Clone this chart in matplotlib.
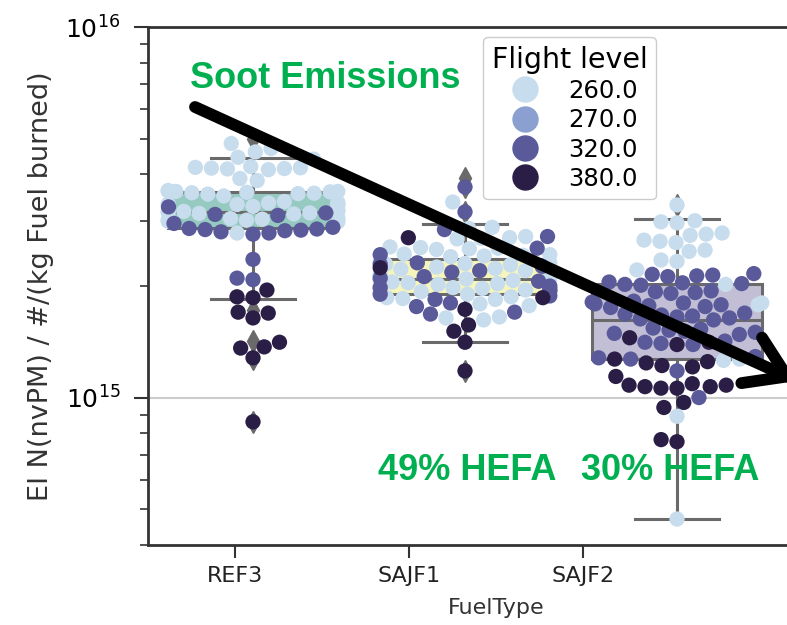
import numpy as np
import pandas as pd
import matplotlib
matplotlib.use("Agg")
import matplotlib.pyplot as plt
from matplotlib.lines import Line2D
import seaborn as sns

# EI values in units of 1e15 particles / kg fuel
fuel_types = ["REF3", "SAJF1", "SAJF2"]
levels = ["260.0", "270.0", "320.0", "380.0"]
level_colors = ["#c7dcec", "#8b9fd0", "#5a5a9a", "#2b1e46"]

ref3_260 = [4.85, 4.7, 4.6, 4.45, 4.4, 4.2, 4.18, 4.17, 4.16, 4.15, 4.14, 4.12,
            3.9, 3.85, 3.62, 3.61, 3.6, 3.6, 3.59, 3.58, 3.57, 3.56, 3.55, 3.54,
            3.5, 3.38, 3.36, 3.35, 3.34, 3.33, 3.32, 3.3, 3.28, 3.2, 3.19, 3.18,
            3.17, 3.16, 3.15, 3.14, 3.13, 3.05, 3.04, 3.03, 3.02, 3.01, 3.0,
            2.99, 2.98, 2.78]
ref3_320 = [3.27, 3.12, 3.15, 3.1, 2.95, 2.88, 2.86, 2.85, 2.84, 2.83, 2.82,
            2.8, 2.78, 2.76, 2.36, 2.1, 2.08]
ref3_380 = [1.95, 1.87, 1.86, 1.7, 1.69, 1.64, 1.41, 1.37, 1.36, 1.28, 0.86]

sajf1_260 = [3.37, 2.88, 2.86, 2.72, 2.70, 2.69, 2.68, 2.55, 2.54, 2.53, 2.52,
             2.51, 2.44, 2.43, 2.42, 2.41, 2.40, 2.32, 2.31, 2.30, 2.29, 2.28,
             2.25, 2.24, 2.23, 2.22, 2.21, 2.20, 2.14, 2.13, 2.12, 2.11, 2.10,
             2.09, 2.08, 2.07, 2.05, 2.04, 2.03, 2.02, 2.00, 1.99, 1.98, 1.97,
             1.96, 1.95, 1.93, 1.92, 1.91, 1.90, 1.87, 1.86, 1.85, 1.84, 1.79,
             1.77, 1.65, 1.64, 1.62]
sajf1_320 = [3.7, 3.17, 2.84, 2.72, 2.53, 2.43, 2.31, 2.29, 2.26, 2.2, 2.18,
             2.12, 2.1, 2.06, 2.0, 1.98, 1.96, 1.94, 1.9, 1.88, 1.84, 1.8, 1.76,
             1.7, 1.68]
sajf1_380 = [2.7, 2.24, 1.86, 1.73, 1.57, 1.51, 1.41, 1.18]

sajf2_260 = [3.31, 3.0, 2.98, 2.96, 2.78, 2.76, 2.74, 2.66, 2.64, 2.62, 2.5,
             2.48, 2.35, 2.33, 2.21, 2.02, 1.8, 1.78, 1.27, 1.26, 0.89, 0.47]
sajf2_320 = [2.16, 2.15, 2.14, 2.13, 2.12, 2.05, 2.04, 2.03, 2.02, 2.01, 1.94,
             1.93, 1.92, 1.91, 1.82, 1.81, 1.80, 1.79, 1.78, 1.77, 1.76, 1.75,
             1.69, 1.68, 1.67, 1.66, 1.65, 1.64, 1.63, 1.62, 1.54, 1.53, 1.52,
             1.51, 1.50, 1.49, 1.48, 1.42, 1.41, 1.40, 1.39, 1.29, 1.28, 1.27,
             1.18, 1.0]
sajf2_380 = [1.45, 1.41, 1.39, 1.27, 1.25, 1.24, 1.22, 1.21, 1.14, 1.09, 1.08,
             1.08, 1.07, 1.07, 1.06, 1.06, 0.97, 0.94, 0.77, 0.76]

# box statistics (same units)
box_med = [3.17, 2.09, 1.62]
box_q1 = [2.86, 1.90, 1.27]
box_q3 = [3.59, 2.36, 2.02]
box_whislo = [1.85, 1.41, 0.47]
box_whishi = [4.44, 2.94, 3.04]
box_fliers = [[5.0, 1.72, 1.42, 1.27, 0.86], [3.92, 3.7, 3.17, 1.18], [3.31]]

rows = []
for fuel, groups in zip(fuel_types, [
        {"260.0": ref3_260, "320.0": ref3_320, "380.0": ref3_380},
        {"260.0": sajf1_260, "320.0": sajf1_320, "380.0": sajf1_380},
        {"260.0": sajf2_260, "320.0": sajf2_320, "380.0": sajf2_380}]):
    for lev, vals in groups.items():
        for v in vals:
            rows.append((fuel, lev, v * 1e15))
df = pd.DataFrame(rows, columns=["FuelType", "FL", "EI"])

W, H = 787, 625
fig = plt.figure(figsize=(W / 100, H / 100), dpi=100)
fig.patch.set_facecolor("white")

bot = (H - 545) / H
hgt = 518 / H
# frame / tick axes (wider, cropped on the right)
ax = fig.add_axes([148 / W, bot, 696 / W, hgt])
# data axes
axd = fig.add_axes([147 / W, bot, 636 / W, hgt])
axd.patch.set_alpha(0)

for a in (ax, axd):
    a.set_yscale("log")
    a.set_ylim(4e14, 1e16)

ax.set_xlim(-0.5, 3.5)
ax.set_xticks([0, 1, 2])
ax.set_xticklabels(fuel_types, fontsize=16)
ax.set_xlabel("FuelType", fontsize=16, color="#333333", labelpad=9)
ax.set_ylabel("EI N(nvPM) / #/(kg Fuel burned)", fontsize=19.5,
              color="#333333", labelpad=8)
ax.tick_params(axis="y", which="major", labelsize=18, length=10, width=1.5,
               color="#333333", pad=10)
ax.tick_params(axis="y", which="minor", length=6, width=1.2, color="#333333")
ax.tick_params(axis="x", length=9, width=1.5, color="#333333",
               labelcolor="#222222", pad=6)
ax.yaxis.grid(True, which="major", color="#cccccc", lw=1.5)
ax.set_axisbelow(True)
for s in ["left", "bottom", "top"]:
    ax.spines[s].set_linewidth(2)
    ax.spines[s].set_color("#333333")
ax.spines["right"].set_visible(False)

# boxes
set3 = sns.color_palette("Set3", 3)
box_faces = [sns.desaturate(c, 0.75) for c in set3]
stats = []
for i in range(3):
    stats.append(dict(med=box_med[i] * 1e15, q1=box_q1[i] * 1e15,
                      q3=box_q3[i] * 1e15, whislo=box_whislo[i] * 1e15,
                      whishi=box_whishi[i] * 1e15,
                      fliers=np.array(box_fliers[i]) * 1e15))
gray = "#6a6a6a"
bp = axd.bxp(stats, positions=[0, 1, 2], widths=0.8, capwidths=0.4,
             patch_artist=True, showfliers=True,
             boxprops=dict(edgecolor=gray, linewidth=2.2),
             whiskerprops=dict(color=gray, linewidth=2.2),
             capprops=dict(color=gray, linewidth=2.2),
             medianprops=dict(color=gray, linewidth=2.2),
             flierprops=dict(marker="d", markersize=11, markerfacecolor=gray,
                             markeredgecolor=gray))
for patch, fc in zip(bp["boxes"], box_faces):
    patch.set_facecolor(fc)

sns.swarmplot(data=df, x="FuelType", y="EI", hue="FL", order=fuel_types,
              hue_order=levels, palette=dict(zip(levels, level_colors)),
              size=11, ax=axd, legend=False, zorder=3)
axd.set_xlim(-0.5, 2.5)
axd.set_ylim(4e14, 1e16)
axd.axis("off")

# legend
handles = [Line2D([], [], marker="o", ls="none", markersize=18,
                  markerfacecolor=c, markeredgecolor=c) for c in level_colors]
fig.legend(handles, levels, title="Flight level", loc="upper left",
           bbox_to_anchor=(483 / W, (H - 37) / H), borderaxespad=0,
           fontsize=17.5, title_fontsize=20.5, labelspacing=0.22,
           framealpha=1, edgecolor="#cccccc", borderpad=0.35,
           handletextpad=0.8)

# annotations
green = "#00b050"
fig.text(190 / W, (H - 88) / H, "Soot Emissions", color=green, fontsize=26,
         fontweight="bold", family="Liberation Sans", va="baseline")
fig.text(378 / W, (H - 480) / H, "49% HEFA", color=green, fontsize=26,
         fontweight="bold", family="Liberation Sans", va="baseline")
fig.text(581 / W, (H - 480) / H, "30% HEFA", color=green, fontsize=26,
         fontweight="bold", family="Liberation Sans", va="baseline")
fig.add_artist(matplotlib.patches.FancyArrowPatch(
    (195 / W, (H - 107) / H), (797 / W, (H - 381) / H),
    transform=fig.transFigure, arrowstyle="->,head_length=0.7,head_width=0.45",
    mutation_scale=40, lw=8.5, color="black", shrinkA=0, shrinkB=0,
    capstyle="round", joinstyle="round", zorder=10))

fig.savefig("out.png", dpi=100)
